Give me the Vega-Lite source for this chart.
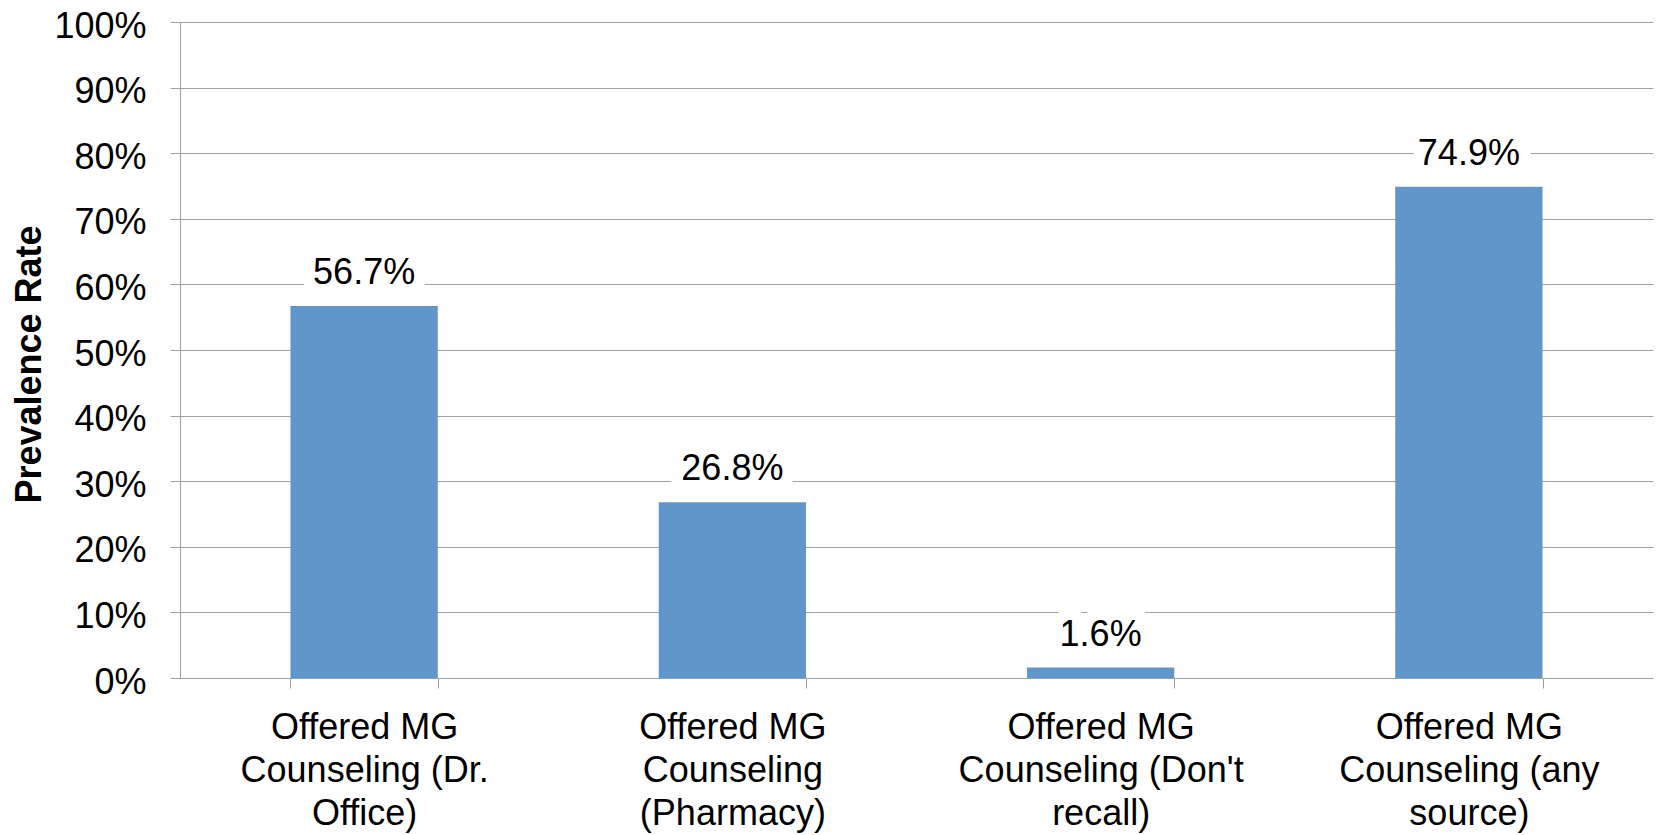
{
  "$schema": "https://vega.github.io/schema/vega-lite/v6.json",
  "width": 1473,
  "height": 656,
  "autosize": {"type": "none"},
  "padding": {"left": 180, "top": 22, "right": 8, "bottom": 157},
  "background": "white",
  "config": {"view": {"stroke": null}, "font": "Liberation Sans"},
  "data": {
    "values": [
      {"category": "Offered MG Counseling (Dr. Office)", "rate": 0.567},
      {"category": "Offered MG Counseling (Pharmacy)", "rate": 0.268},
      {"category": "Offered MG Counseling (Don't recall)", "rate": 0.016},
      {"category": "Offered MG Counseling (any source)", "rate": 0.749}
    ]
  },
  "encoding": {
    "x": {
      "field": "category",
      "type": "nominal",
      "sort": null,
      "scale": {"paddingInner": 0.6, "paddingOuter": 0.3},
      "axis": {
        "title": null,
        "orient": "bottom",
        "labelAngle": 0,
        "labelFontSize": 36,
        "labelColor": "black",
        "labelLineHeight": 43,
        "labelPadding": 22,
        "labelLimit": 600,
        "tickBand": "extent",
        "tickSize": 10,
        "tickColor": "#a0a0a0",
        "domainColor": "#a0a0a0",
        "labelExpr": "datum.value == 'Offered MG Counseling (Dr. Office)' ? ['Offered MG', 'Counseling (Dr.', 'Office)'] : datum.value == 'Offered MG Counseling (Pharmacy)' ? ['Offered MG', 'Counseling', '(Pharmacy)'] : datum.value == \"Offered MG Counseling (Don't recall)\" ? ['Offered MG', \"Counseling (Don't\", 'recall)'] : datum.value == 'Offered MG Counseling (any source)' ? ['Offered MG', 'Counseling (any', 'source)'] : ''"
      }
    },
    "y": {
      "field": "rate",
      "type": "quantitative",
      "scale": {"domain": [0, 1], "nice": false},
      "axis": {
        "title": "Prevalence Rate",
        "format": ".0%",
        "values": [0, 0.1, 0.2, 0.3, 0.4, 0.5, 0.6, 0.7, 0.8, 0.9, 1],
        "grid": true,
        "gridColor": "#a0a0a0",
        "gridWidth": 1.2,
        "domainColor": "#a0a0a0",
        "tickColor": "#a0a0a0",
        "tickSize": 10,
        "labelFontSize": 36,
        "labelColor": "black",
        "labelPadding": 24,
        "labelOffset": 4,
        "titleFontSize": 36,
        "titleFontWeight": "bold",
        "titleColor": "black",
        "titleX": -151,
        "titleY": 342,
        "titleAngle": -90,
        "titleBaseline": "middle",
        "titleAlign": "center"
      }
    }
  },
  "layer": [
    {"mark": {"type": "bar", "color": "#6096CA"}},
    {
      "mark": {"type": "text", "dy": -22, "baseline": "alphabetic", "fontSize": 36, "stroke": "white", "strokeWidth": 24, "strokeJoin": "round", "fill": "white"},
      "encoding": {"text": {"field": "rate", "type": "quantitative", "format": ".1%"}}
    },
    {
      "mark": {"type": "text", "dy": -22, "baseline": "alphabetic", "fontSize": 36, "color": "black"},
      "encoding": {"text": {"field": "rate", "type": "quantitative", "format": ".1%"}}
    }
  ]
}
